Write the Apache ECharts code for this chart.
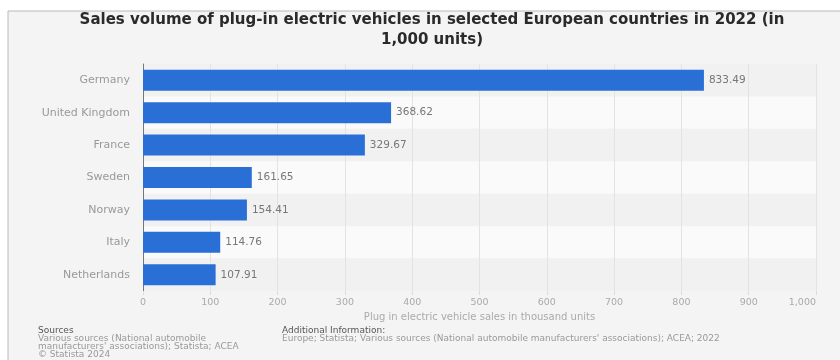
<!DOCTYPE html>
<html><head><meta charset="utf-8">
<script src="https://cdn.jsdelivr.net/npm/echarts@6/dist/echarts.min.js"></script>
<style>html,body{margin:0;padding:0;background:#fff}#c{width:840px;height:360px}</style>
</head><body><div id="c"></div>
<script>
const categories = ['Germany','United Kingdom','France','Sweden','Norway','Italy','Netherlands'];
const salesValues = [833.49, 368.62, 329.67, 161.65, 154.41, 114.76, 107.91];
const xTicks = {min: 0, max: 1000, interval: 100};
const titleText = 'Sales volume of plug-in electric vehicles in selected European countries in 2022 (in\n1,000 units)';
const axisName = 'Plug in electric vehicle sales in thousand units';

const chart = echarts.init(document.getElementById('c'));
const F = '"DejaVu Sans", Verdana, sans-serif';
chart.setOption({
  backgroundColor: '#ffffff',
  animation: false,
  graphic: [
    {type:'rect', z:-10, shape:{x:8,y:11,width:840,height:360}, style:{fill:'#f4f4f4', stroke:'#b8b8b8', lineWidth:1}},
    {type:'text', left:38, top:326, style:{text:'Sources', fill:'#555', font:'9px '+F}},
    {type:'text', left:38, top:334, style:{text:"Various sources (National automobile\nmanufacturers' associations); Statista; ACEA\n© Statista 2024", fill:'#999', font:'9px '+F, lineHeight:8}},
    {type:'text', left:282, top:326, style:{text:'Additional Information:', fill:'#555', font:'9px '+F}},
    {type:'text', left:282, top:334, style:{text:"Europe; Statista; Various sources (National automobile manufacturers' associations); ACEA; 2022", fill:'#999', font:'9px '+F}}
  ],
  title: {
    text: titleText, left: 432, top: 10, textAlign: 'center', padding: 0,
    textStyle: {fontFamily: F, fontSize: 15, fontWeight: 'bold', color: '#2a2a2a', lineHeight: 20}
  },
  grid: {left: 143, right: 24, top: 64, bottom: 69},
  xAxis: {
    type: 'value', min: xTicks.min, max: xTicks.max, interval: xTicks.interval,
    name: axisName, nameLocation: 'middle', nameGap: 19,
    nameTextStyle: {fontFamily: F, fontSize: 10, color: '#aaa'},
    axisLine: {show: false},
    axisTick: {show: true, length: 4, lineStyle: {color: '#dcdcdc'}},
    axisLabel: {fontFamily: F, fontSize: 9.5, color: '#aaa', margin: 7, alignMaxLabel: 'right',
      formatter: v => v.toLocaleString('en-US')},
    splitLine: {show: true, lineStyle: {color: '#e3e3e3'}}
  },
  yAxis: {
    type: 'category', data: categories, inverse: true,
    axisLine: {show: true, lineStyle: {color: '#777', width: 1}},
    axisTick: {show: false},
    axisLabel: {fontFamily: F, fontSize: 11, color: '#999', margin: 13},
    splitArea: {show: true, areaStyle: {color: ['#f1f1f1', '#fafafa']}}
  },
  series: [{
    type: 'bar', data: salesValues, barWidth: 21,
    itemStyle: {color: '#2a6fd6'},
    label: {show: true, position: 'right', distance: 5, fontFamily: F, fontSize: 10.5, color: '#777',
      formatter: p => p.value.toFixed(2)}
  }]
});
</script></body></html>
